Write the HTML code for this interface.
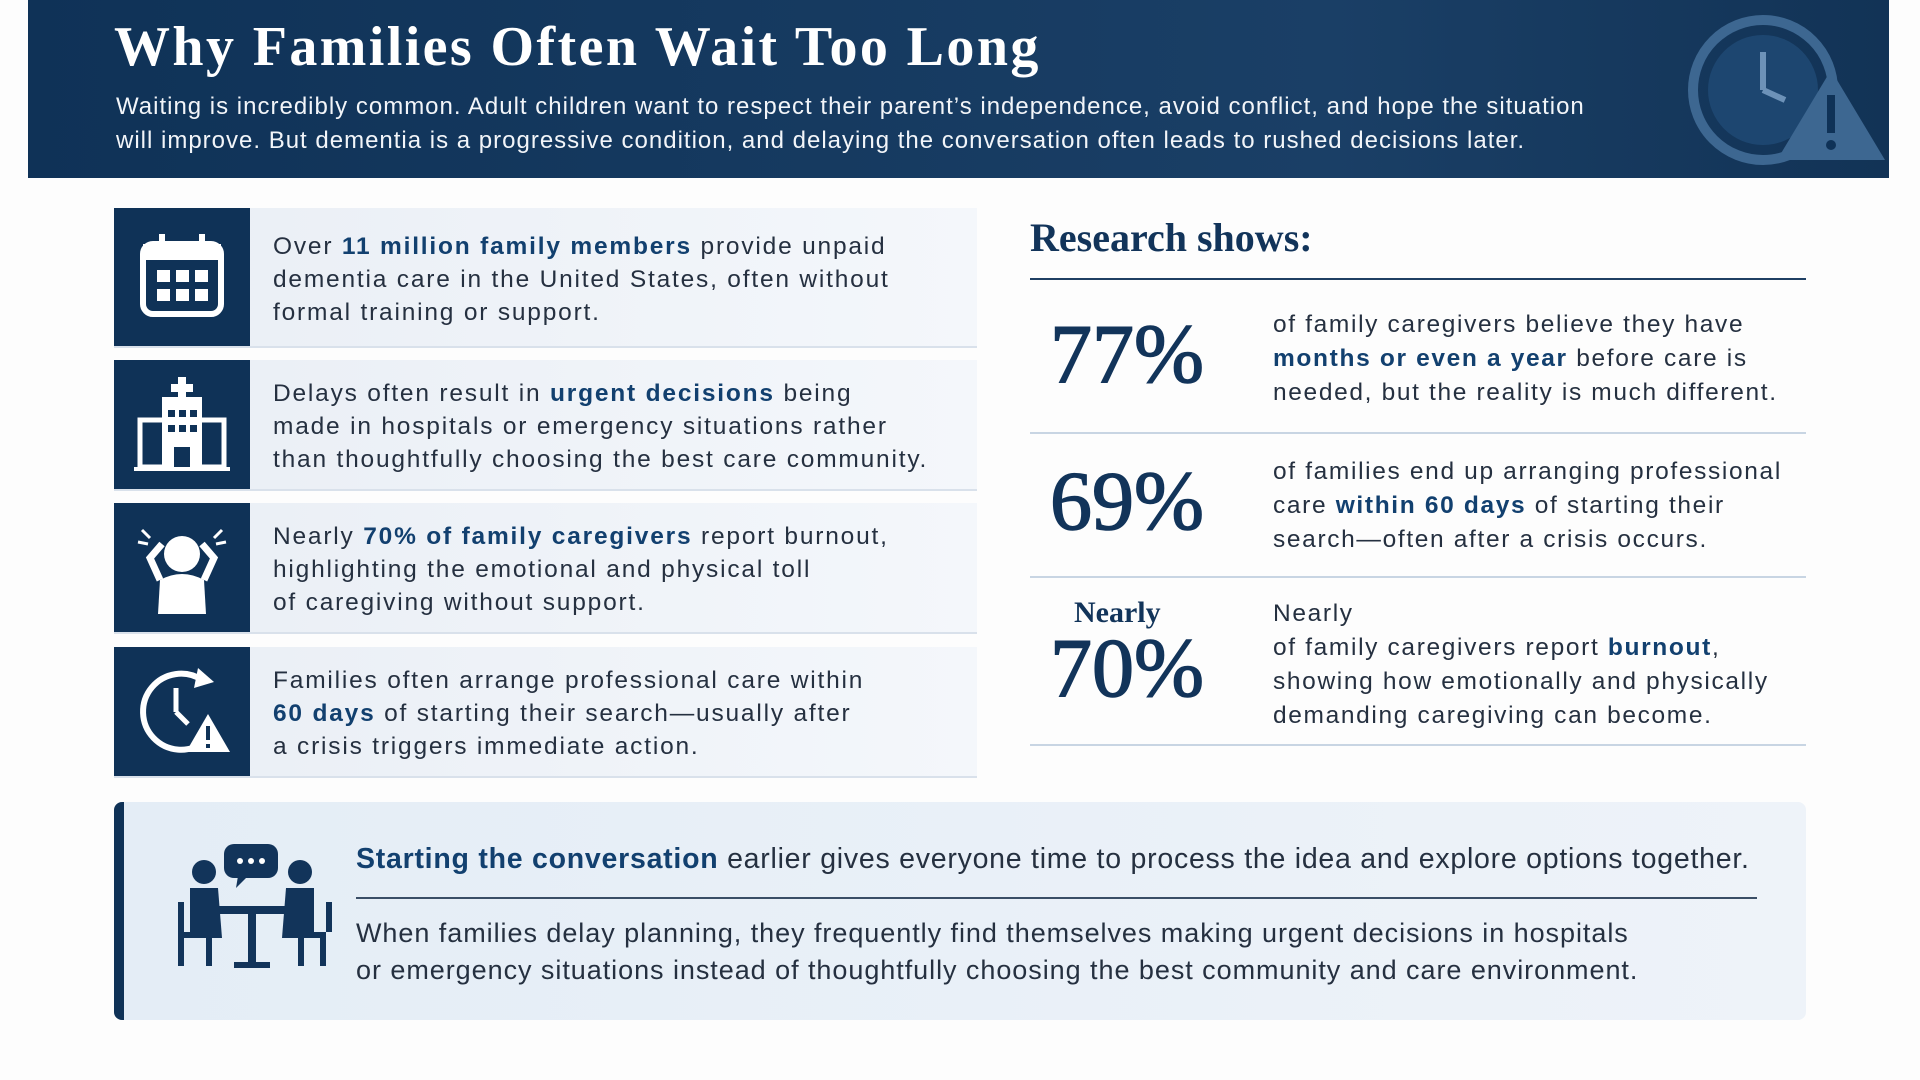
<!DOCTYPE html>
<html><head><meta charset="utf-8"><style>
*{margin:0;padding:0;box-sizing:border-box}
body{width:1920px;height:1080px;background:#fdfdfd;position:relative;overflow:hidden;font-family:"Liberation Sans",sans-serif;color:#1e2a3a}
.abs{position:absolute}
.hdr{left:28px;top:0;width:1861px;height:178px;background:linear-gradient(90deg,#0f3257,#1a3f66 70%,#123356)}
.title{left:114px;top:15px;font-family:"Liberation Serif",serif;font-weight:bold;font-size:56px;color:#fff;white-space:nowrap;letter-spacing:2.4px}
.sub{left:116px;top:90px;font-size:24px;line-height:34px;color:#f2f5f9;white-space:nowrap;letter-spacing:1px}
.card{left:114px;width:863px;background:linear-gradient(90deg,#e9eef5,#f4f7fb);border-bottom:2px solid #d9e1eb}
.ico{position:absolute;left:0;top:0;width:136px;height:100%;background:#0f3257;display:flex;align-items:center;justify-content:center}
.ct{position:absolute;left:159px;font-size:24.5px;line-height:33px;color:#253040;white-space:nowrap;letter-spacing:1.8px}
b{color:#12406f}
.rs{left:1030px;top:214px;font-family:"Liberation Serif",serif;font-weight:bold;font-size:40px;color:#12345a}
.hl{left:1030px;width:776px;height:2px;background:#c8d5e3}
.big{font-family:"Liberation Serif",serif;font-size:84px;color:#12345a;left:1050px;-webkit-text-stroke:1.5px #12345a}
.rt{left:1273px;font-size:24.5px;line-height:34px;white-space:nowrap;color:#253040;letter-spacing:1.65px}
.bot{left:114px;top:802px;width:1692px;height:218px;background:linear-gradient(90deg,#e4edf6,#eef3f9);border-left:10px solid #0f3257;border-radius:8px}
</style></head><body>
<div class="abs hdr">
<svg class="abs" style="left:1625px;top:0" width="240" height="178">
<circle cx="110" cy="90" r="70" fill="none" stroke="#3d6791" stroke-width="10"/><circle cx="110" cy="90" r="55" fill="#1d4670"/>
<line x1="110" y1="90" x2="110" y2="52" stroke="#6d92b8" stroke-width="6"/><line x1="110" y1="90" x2="132" y2="100" stroke="#6d92b8" stroke-width="6"/>
<polygon points="178,70 232,160 124,160" fill="#3d6791"/><rect x="174" y="95" width="8" height="38" fill="#0f3257"/><circle cx="178" cy="145" r="5" fill="#0f3257"/></svg>
</div>
<div class="abs title">Why Families Often Wait Too Long</div>
<div class="abs sub">Waiting is incredibly common. Adult children want to respect their parent’s independence, avoid conflict, and hope the situation<br>will improve. But dementia is a progressive condition, and delaying the conversation often leads to rushed decisions later.</div>

<div class="abs card" style="top:208px;height:140px">
<div class="ico"><svg width="90" height="90"><rect x="6" y="12" width="78" height="70" rx="10" fill="none" stroke="#fff" stroke-width="6"/><rect x="6" y="12" width="78" height="16" fill="#fff"/><rect x="22" y="2" width="6" height="18" fill="#fff"/><rect x="62" y="2" width="6" height="18" fill="#fff"/><g fill="#fff"><rect x="20" y="38" width="13" height="12"/><rect x="39" y="38" width="13" height="12"/><rect x="58" y="38" width="13" height="12"/><rect x="20" y="57" width="13" height="12"/><rect x="39" y="57" width="13" height="12"/><rect x="58" y="57" width="13" height="12"/></g></svg></div>
<div class="ct" style="top:22px">Over <b>11 million family members</b> provide unpaid<br>dementia care in the United States, often without<br>formal training or support.</div></div>

<div class="abs card" style="top:360px;height:131px">
<div class="ico"><svg width="100" height="100"><rect x="30" y="22" width="40" height="70" fill="#fff"/><rect x="8" y="45" width="84" height="47" fill="none" stroke="#fff" stroke-width="5"/><rect x="46" y="2" width="8" height="22" fill="#fff"/><rect x="39" y="9" width="22" height="8" fill="#fff"/><g fill="#0f3257"><rect x="36" y="35" width="7" height="7"/><rect x="47" y="35" width="7" height="7"/><rect x="58" y="35" width="7" height="7"/><rect x="36" y="50" width="7" height="7"/><rect x="47" y="50" width="7" height="7"/><rect x="58" y="50" width="7" height="7"/><rect x="42" y="72" width="16" height="20"/></g><rect x="2" y="92" width="96" height="4" fill="#fff"/></svg></div>
<div class="ct" style="top:17px">Delays often result in <b>urgent decisions</b> being<br>made in hospitals or emergency situations rather<br>than thoughtfully choosing the best care community.</div></div>

<div class="abs card" style="top:503px;height:131px">
<div class="ico"><svg width="100" height="100"><circle cx="50" cy="36" r="18" fill="#fff"/><path d="M26 96 L28 62 Q50 50 72 62 L74 96Z" fill="#fff"/><path d="M28 62 L18 40 L30 26" stroke="#fff" stroke-width="7" fill="none"/><path d="M72 62 L82 40 L70 26" stroke="#fff" stroke-width="7" fill="none"/><path d="M10 12 L18 20 M6 24 L16 26 M90 12 L82 20 M94 24 L84 26" stroke="#fff" stroke-width="3"/></svg></div>
<div class="ct" style="top:17px">Nearly <b>70% of family caregivers</b> report burnout,<br>highlighting the emotional and physical toll<br>of caregiving without support.</div></div>

<div class="abs card" style="top:647px;height:131px">
<div class="ico"><svg width="100" height="100"><path d="M70 18 A38 38 0 1 0 72 80" stroke="#fff" stroke-width="6" fill="none"/><polygon points="66,6 82,20 62,26" fill="#fff"/><line x1="44" y1="50" x2="44" y2="26" stroke="#fff" stroke-width="5"/><line x1="44" y1="50" x2="56" y2="62" stroke="#fff" stroke-width="5"/><polygon points="76,52 98,90 54,90" fill="#fff"/><rect x="74" y="64" width="4" height="14" fill="#0f3257"/><rect x="74" y="82" width="4" height="4" fill="#0f3257"/></svg></div>
<div class="ct" style="top:17px">Families often arrange professional care within<br><b>60 days</b> of starting their search—usually after<br>a crisis triggers immediate action.</div></div>

<div class="abs rs">Research shows:</div>
<div class="abs hl" style="top:278px;background:#1f3f63"></div>
<div class="abs big" style="top:306px">77%</div>
<div class="abs rt" style="top:308px">of family caregivers believe they have<br><b>months or even a year</b> before care is<br>needed, but the reality is much different.</div>
<div class="abs hl" style="top:432px"></div>
<div class="abs big" style="top:453px">69%</div>
<div class="abs rt" style="top:455px">of families end up arranging professional<br>care <b>within 60 days</b> of starting their<br>search—often after a crisis occurs.</div>
<div class="abs hl" style="top:576px"></div>
<div class="abs" style="left:1074px;top:596px;font-family:'Liberation Serif',serif;font-weight:bold;font-size:30px;color:#12345a">Nearly</div>
<div class="abs big" style="top:620px">70%</div>
<div class="abs rt" style="top:597px">Nearly<br>of family caregivers report <b>burnout</b>,<br>showing how emotionally and physically<br>demanding caregiving can become.</div>
<div class="abs hl" style="top:744px"></div>

<div class="abs bot">
<svg class="abs" style="left:48px;top:38px" width="160" height="135"><g fill="#12345a"><rect x="52" y="4" width="54" height="34" rx="10"/><polygon points="66,36 76,36 64,48"/><circle cx="32" cy="32" r="12"/><circle cx="128" cy="32" r="12"/><path d="M18 48 h28 l4 50 h-32z"/><path d="M114 48 h28 v50 h-32z"/><rect x="42" y="66" width="76" height="8"/><rect x="76" y="74" width="8" height="52"/><rect x="62" y="122" width="36" height="6"/><path d="M6 62 v64 h6 v-28 h22 v28 h6 v-34 h-28 v-30z"/><path d="M154 62 v64 h-6 v-28 h-22 v28 h6 v-34 h28 v-30z"/></g><g fill="#fff"><circle cx="68" cy="21" r="3"/><circle cx="79" cy="21" r="3"/><circle cx="90" cy="21" r="3"/></g></svg>
<div class="abs" style="left:232px;top:41px;font-size:28.5px;white-space:nowrap;color:#253040;letter-spacing:0.75px"><b>Starting the conversation</b> earlier gives everyone time to process the idea and explore options together.</div>
<div class="abs" style="left:232px;top:95px;width:1401px;height:2px;background:#3a4e66"></div>
<div class="abs" style="left:232px;top:113px;font-size:27px;line-height:37px;white-space:nowrap;color:#253040;letter-spacing:0.95px">When families delay planning, they frequently find themselves making urgent decisions in hospitals<br>or emergency situations instead of thoughtfully choosing the best community and care environment.</div>
</div>
</body></html>
